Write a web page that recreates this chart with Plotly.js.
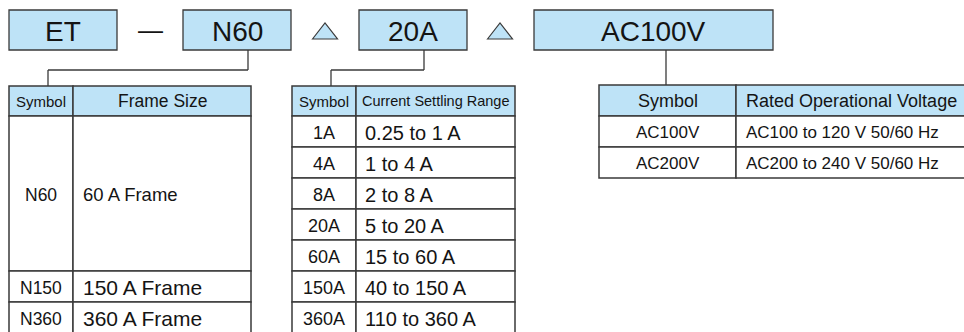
<!DOCTYPE html>
<html>
<head>
<meta charset="utf-8">
<script src="https://cdn.plot.ly/plotly-3.0.1.min.js"></script>
<style>html,body{margin:0;padding:0;background:#fff;}#chart{width:964px;height:332px;}</style>
</head>
<body>
<div id="chart"></div>
<script>
// ---- data ----
const codeParts = ['ET', 'N60', '20A', 'AC100V'];
const separators = ['—', '△', '△'];
const frameHeader = ['Symbol', 'Frame Size'];
const frameSymbols = ['N60', 'N150', 'N360'];
const frameSizes = ['60 A Frame', '150 A Frame', '360 A Frame'];
const frameRowSpans = [5, 1, 1];
const currentHeader = ['Symbol', 'Current Settling Range'];
const currentSymbols = ['1A', '4A', '8A', '20A', '60A', '150A', '360A'];
const currentRanges = ['0.25 to 1 A', '1 to 4 A', '2 to 8 A', '5 to 20 A', '15 to 60 A', '40 to 150 A', '110 to 360 A'];
const voltageHeader = ['Symbol', 'Rated Operational Voltage'];
const voltageSymbols = ['AC100V', 'AC200V'];
const voltageRanges = ['AC100 to 120 V 50/60 Hz', 'AC200 to 240 V 50/60 Hz'];

// ---- styling / layout geometry ----
const BLUE = '#bee3f7';
const EDGE = '#3a3a3a';
const TXT = '#141414';
const FONT = 'Liberation Sans, Arial, Helvetica, sans-serif';

const boxX = [[9, 117], [183, 291], [359, 467], [534, 773]];
const boxY = [10, 50];
const sepX = [150, 325, 500];

const shapes = [];
const annotations = [];

function rect(x0, x1, y0, y1, fill, w) {
  shapes.push({type: 'rect', xref: 'x', yref: 'y', x0, x1, y0, y1,
    fillcolor: fill, line: {color: EDGE, width: w || 1.3}, layer: 'below'});
}
function line(x0, y0, x1, y1, w) {
  shapes.push({type: 'line', xref: 'x', yref: 'y', x0, y0, x1, y1,
    line: {color: EDGE, width: w || 1.3}});
}
function text(t, x, y, size, anchor) {
  annotations.push({text: t, x, y, xref: 'x', yref: 'y', showarrow: false,
    xanchor: anchor || 'center', yanchor: 'middle',
    font: {family: FONT, size, color: TXT}});
}

// code boxes
codeParts.forEach((p, i) => {
  rect(boxX[i][0], boxX[i][1], boxY[0], boxY[1], BLUE, 1.3);
  text(p, (boxX[i][0] + boxX[i][1]) / 2, 31, 28);
});
// separators
text(separators[0], sepX[0], 30, 25);
[1, 2].forEach(i => {
  const cx = sepX[i], half = 12.5, top = 23, bot = 39;
  shapes.push({type: 'path', xref: 'x', yref: 'y',
    path: `M ${cx - half} ${bot} L ${cx} ${top} L ${cx + half} ${bot} Z`,
    fillcolor: BLUE, line: {color: EDGE, width: 1.2}});
});

// connectors
line(248, 50, 248, 70); line(248, 70, 48, 70); line(48, 70, 48, 86);
line(424, 50, 424, 70); line(424, 70, 331, 70); line(331, 70, 331, 86);
line(666, 50, 666, 85);

const rowH = 31;
const tTop = 86, hBot = 116;

// table 1: frame size
const t1 = [9, 73, 251];
rect(t1[0], t1[1], tTop, hBot, BLUE, 1.5);
rect(t1[1], t1[2], tTop, hBot, BLUE, 1.5);
text(frameHeader[0], (t1[0] + t1[1]) / 2, 101, 15);
text(frameHeader[1], (t1[1] + t1[2]) / 2, 101, 17.5);
let y = hBot;
frameSymbols.forEach((s, i) => {
  const h = frameRowSpans[i] * rowH;
  rect(t1[0], t1[1], y, y + h, '#ffffff', 1.5);
  rect(t1[1], t1[2], y, y + h, '#ffffff', 1.5);
  text(s, (t1[0] + t1[1]) / 2, y + h / 2 + 1, 17.5);
  text(frameSizes[i], t1[1] + 8, y + h / 2 + 1, i === 0 ? 18.5 : 21, 'left');
  y += h;
});

// table 2: current range
const t2 = [292, 356, 515];
rect(t2[0], t2[1], tTop, hBot, BLUE, 1.5);
rect(t2[1], t2[2], tTop, hBot, BLUE, 1.5);
text(currentHeader[0], (t2[0] + t2[1]) / 2, 101, 15);
text(currentHeader[1], (t2[1] + t2[2]) / 2, 101, 14.5);
currentSymbols.forEach((s, i) => {
  const y0 = hBot + i * rowH;
  rect(t2[0], t2[1], y0, y0 + rowH, '#ffffff', 1.5);
  rect(t2[1], t2[2], y0, y0 + rowH, '#ffffff', 1.5);
  text(s, (t2[0] + t2[1]) / 2, y0 + rowH / 2 + 1, 18);
  text(currentRanges[i], t2[1] + 7, y0 + rowH / 2 + 1, 20, 'left');
});

// table 3: voltage
const t3 = [599, 736, 990];
const t3Top = 85;
rect(t3[0], t3[1], t3Top, hBot, BLUE, 1.5);
rect(t3[1], t3[2], t3Top, hBot, BLUE, 1.5);
text(voltageHeader[0], (t3[0] + t3[1]) / 2, 100.5, 18);
text(voltageHeader[1], t3[1] + 8, 100.5, 18, 'left');
voltageSymbols.forEach((s, i) => {
  const y0 = hBot + i * rowH;
  rect(t3[0], t3[1], y0, y0 + rowH, '#ffffff', 1.5);
  rect(t3[1], t3[2], y0, y0 + rowH, '#ffffff', 1.5);
  text(s, (t3[0] + t3[1]) / 2, y0 + rowH / 2 + 1, 17);
  text(voltageRanges[i], t3[1] + 8, y0 + rowH / 2 + 1, 17, 'left');
});

const layout = {
  width: 964, height: 332,
  margin: {l: 0, r: 0, t: 0, b: 0},
  paper_bgcolor: '#ffffff', plot_bgcolor: '#ffffff',
  xaxis: {range: [0, 964], visible: false, fixedrange: true},
  yaxis: {range: [332, 0], visible: false, fixedrange: true},
  showlegend: false,
  shapes, annotations
};
Plotly.newPlot('chart', [], layout, {displayModeBar: false, staticPlot: true});
</script>
</body>
</html>
